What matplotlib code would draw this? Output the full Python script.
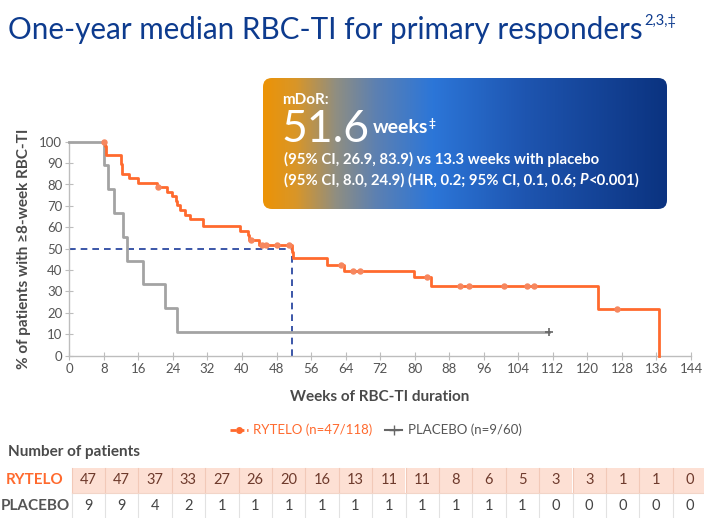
import numpy as np
import matplotlib
matplotlib.use("Agg")
import matplotlib.pyplot as plt
from matplotlib.colors import LinearSegmentedColormap
from matplotlib.patches import FancyBboxPatch, Rectangle
from matplotlib.lines import Line2D

plt.rcParams['font.family'] = ['Lato', 'DejaVu Sans']

# ---------------- data ----------------
rytelo_t = [8, 8.3, 8.6, 11.9, 12.1, 13.9, 16.0, 20.3, 22.7, 23.7, 24.8, 25.0, 25.6, 26.8,
            27.9, 31.0, 39.6, 41.4, 41.7, 44.0, 51.6, 51.9, 59.8, 63.6, 79.8, 83.7, 122.5, 136.5]
rytelo_s = [100, 97.9, 93.6, 89.4, 85.1, 83.0, 80.9, 78.7, 76.6, 74.5, 72.3, 70.2, 68.1, 65.9,
            63.8, 60.6, 58.5, 56.3, 53.9, 51.5, 48.5, 45.6, 42.6, 39.6, 36.6, 32.6, 21.7, 0]
rytelo_cens_t = [8, 20.6, 42.0, 44.6, 45.6, 48.1, 51.0, 63.0, 65.7, 67.3, 82.9, 90.4, 92.6,
                 100.7, 106.0, 107.7, 126.9]
rytelo_cens_s = [100, 78.7, 53.9, 51.5, 51.5, 51.5, 51.5, 42.6, 39.6, 39.6, 36.6, 32.6, 32.6,
                 32.6, 32.6, 32.6, 21.7]

placebo_t = [0, 8, 9, 10.3, 12.5, 13.3, 17.1, 22.1, 25.0, 111.1]
placebo_s = [100, 88.9, 77.8, 66.7, 55.6, 44.4, 33.3, 22.2, 11.1, 11.1]
placebo_cens_t = [111.1]
placebo_cens_s = [11.1]

median_week = 51.6
median_pct = 50

x_ticks = list(range(0, 145, 8))
y_ticks = list(range(0, 101, 10))

rytelo_at_risk = [47, 47, 37, 33, 27, 26, 20, 16, 13, 11, 11, 8, 6, 5, 3, 3, 1, 1, 0]
placebo_at_risk = [9, 9, 4, 2, 1, 1, 1, 1, 1, 1, 1, 1, 1, 1, 0, 0, 0, 0, 0]

ORANGE = '#ff6a2e'
GREY = '#a3a3a3'
NAVY = '#0d3b8e'
TXT = '#4a4a4a'

W, H = 704, 518
fig = plt.figure(figsize=(W / 100, H / 100), dpi=100)
renderer = fig.canvas.get_renderer()

def fx(px):
    return px / W

def fy(py):
    return 1 - py / H

def text_after(prev, dx_px, dy_px, s, **kw):
    """Place a text right after a previous one (pixel offsets)."""
    bb = prev.get_window_extent(renderer=renderer)
    x = (bb.x1 + dx_px) / W
    y = prev.get_position()[1] + dy_px / H
    return fig.text(x, y, s, **kw)

# ---------------- title ----------------
t = fig.text(fx(8), fy(30), 'One-year median RBC-TI for primary responders', color=NAVY,
             fontsize=21.3, va='center', ha='left')
text_after(t, 2, 9, '2,3,‡', color=NAVY, fontsize=10.5, va='center', ha='left')

# ---------------- main axes ----------------
ax = fig.add_axes([fx(69.3), fy(355.7), fx(691) - fx(69.3), fy(141.7) - fy(355.7)])
ax.set_xlim(0, 144)
ax.set_ylim(0, 100)
for s in ['top', 'right']:
    ax.spines[s].set_visible(False)
for s in ['left', 'bottom']:
    ax.spines[s].set_color('#bdbdbd')
    ax.spines[s].set_linewidth(1)
ax.set_xticks(x_ticks)
ax.set_yticks(y_ticks)
ax.tick_params(direction='inout', length=6, color='#bdbdbd', labelcolor='#555555',
               labelsize=9.5, pad=2)
ax.patch.set_alpha(0)

ax.plot([0, median_week], [median_pct, median_pct], ls=(0, (4, 3)), color='#1a3a9a', lw=1.2, zorder=2)
ax.plot([median_week, median_week], [0, median_pct], ls=(0, (4, 3)), color='#1a3a9a', lw=1.2, zorder=2)

ax.step(placebo_t, placebo_s, where='post', color=GREY, lw=2, zorder=3, clip_on=False)
ax.plot(placebo_cens_t, placebo_cens_s, ls='none', marker='+', ms=6, mew=1.2, color='#666666', zorder=4)

ax.step(rytelo_t, rytelo_s, where='post', color=ORANGE, lw=2, zorder=5, clip_on=False)
ax.plot(rytelo_cens_t, rytelo_cens_s, ls='none', marker='o', ms=3.6, color='#f6875f', mec='#f6875f',
        zorder=6, clip_on=False)

ax.set_xlabel('Weeks of RBC-TI duration', fontsize=11, fontweight='bold', color=TXT, labelpad=11)
ax.set_ylabel('% of patients with ≥8-week RBC-TI', fontsize=11, fontweight='bold', color=TXT,
              labelpad=6)

# ---------------- gradient box ----------------
bx0, by0, bx1, by1 = 263, 78, 667, 209
bax = fig.add_axes([fx(bx0), fy(by1), fx(bx1) - fx(bx0), fy(by0) - fy(by1)])
bax.set_xlim(0, 1)
bax.set_ylim(0, 1)
bax.axis('off')
cmap = LinearSegmentedColormap.from_list('g', [
    (0.0, '#ec9306'), (0.08, '#d99628'), (0.18, '#8f8e82'), (0.28, '#5c80b2'),
    (0.42, '#2c76d8'), (0.65, '#1e55b0'), (1.0, '#0b3380')])
grad = np.linspace(0, 1, 512)[None, :]
im = bax.imshow(grad, extent=[0, 1, 0, 1], aspect='auto', cmap=cmap, zorder=1)
clip = FancyBboxPatch((0, 0), 1, 1, boxstyle='round,pad=0,rounding_size=0.022', transform=bax.transAxes,
                      mutation_aspect=(bx1 - bx0) / (by1 - by0), facecolor='none', edgecolor='none')
bax.add_patch(clip)
im.set_clip_path(clip)

fig.text(fx(282), fy(100), 'mDoR:', color='white', fontsize=11, fontweight='bold', va='center')
big = fig.text(fx(281), fy(142), '51.6', color='white', fontsize=32, va='baseline')
wk = text_after(big, 4, 9, 'weeks', color='white', fontsize=14, fontweight='bold',
                va='baseline')
text_after(wk, 0, 6, '‡', color='white', fontsize=8.5, fontweight='bold', va='baseline')
fig.text(fx(284), fy(159), '(95% CI, 26.9, 83.9) vs 13.3 weeks with placebo', color='white',
         fontsize=10.7, fontweight='bold', va='center')
l2 = fig.text(fx(284), fy(180), '(95% CI, 8.0, 24.9) (HR, 0.2; 95% CI, 0.1, 0.6; ',
              color='white', fontsize=10.7, fontweight='bold', va='center')
p = text_after(l2, 0, 0, 'P', color='white', fontsize=10.7, fontweight='bold', style='italic',
               va='center')
text_after(p, 0, 0, '<0.001)', color='white', fontsize=10.7, fontweight='bold', va='center')

# ---------------- legend ----------------
h1 = Line2D([], [], color=ORANGE, lw=2, ls=(0, (2, 1)), marker='o', ms=4)
h2 = Line2D([], [], color='#666666', lw=1.5, marker='+', ms=7)
leg = fig.legend([h1, h2], ['RYTELO (n=47/118)', 'PLACEBO (n=9/60)'], loc='center',
                 bbox_to_anchor=(fx(376), fy(430)), ncol=2, frameon=False, fontsize=9.5,
                 handlelength=1.3, handletextpad=0.4, columnspacing=1.0)
leg.get_texts()[0].set_color(ORANGE)
leg.get_texts()[1].set_color('#555555')

# ---------------- at-risk table ----------------
fig.text(fx(8), fy(452), 'Number of patients', fontsize=11, fontweight='bold', color=TXT, va='center')
tax = fig.add_axes([0, 0, 1, 1])
tax.set_xlim(0, W)
tax.set_ylim(H, 0)
tax.axis('off')
tax.patch.set_alpha(0)
col0, colw = 71.5, 33.4
r1y0, r1y1, r2y1 = 467.5, 493, 518
n = len(rytelo_at_risk)
for i in range(n):
    x0 = col0 + i * colw
    tax.add_patch(Rectangle((x0, r1y0), colw, r1y1 - r1y0, facecolor='#fde0d4',
                            edgecolor='none'))
    tax.text(x0 + colw / 2, (r1y0 + r1y1) / 2, str(rytelo_at_risk[i]), ha='center',
             va='center', fontsize=10.5, color='#6e3a2c')
    tax.text(x0 + colw / 2, (r1y1 + r2y1) / 2, str(placebo_at_risk[i]), ha='center',
             va='center', fontsize=10.5, color='#444444')
for i in range(n + 1):
    x0 = col0 + i * colw
    tax.plot([x0, x0], [r1y0, r1y1], color='#f2c9b8', lw=0.8)
    tax.plot([x0, x0], [r1y1, r2y1], color='#e2e2e2', lw=0.8)
tax.plot([col0, W], [r1y1, r1y1], color='#f2d5c8', lw=0.8)
tax.text(35, (r1y0 + r1y1) / 2, 'RYTELO', ha='center', va='center', fontsize=11,
         fontweight='bold', color=ORANGE)
tax.text(35, (r1y1 + r2y1) / 2, 'PLACEBO', ha='center', va='center', fontsize=11,
         fontweight='bold', color='#555555')

fig.savefig('out.png', dpi=100)
